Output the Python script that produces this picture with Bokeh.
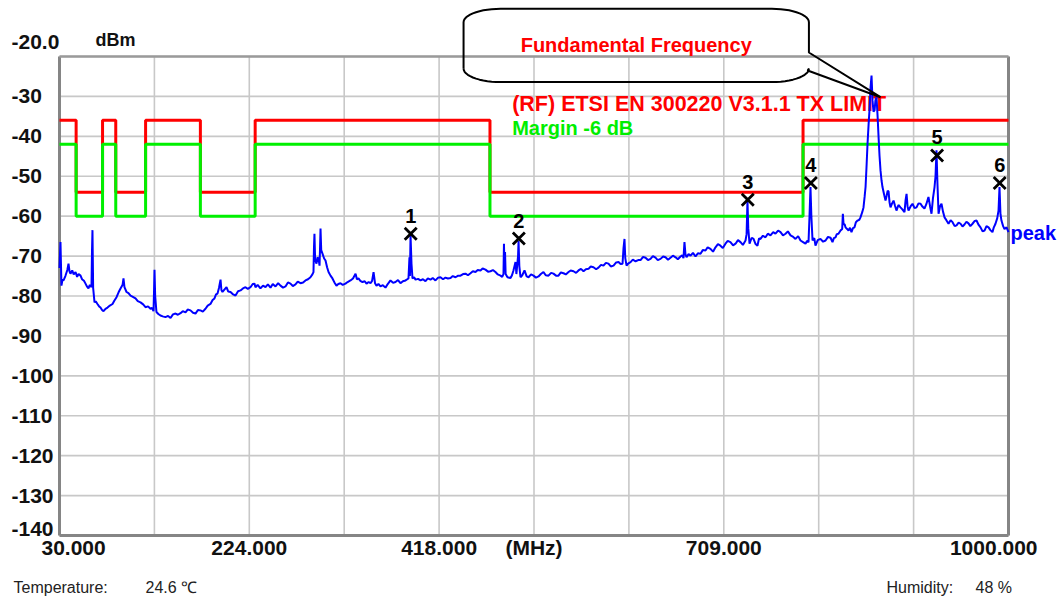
import numpy as np
from bokeh.plotting import figure
from bokeh.models import Range1d
from bokeh.core.properties import value
from bokeh.embed import file_html
from bokeh.resources import INLINE

# ---------------- data ----------------
FREQ_MHZ = [
    30.0, 31.0, 32.0, 33.0, 34.1, 36.0, 38.0, 39.2, 40.2, 41.2,
    43.0, 44.5, 46.4, 48.0, 49.5, 51.5, 53.0, 55.0, 56.6, 58.0,
    59.6, 61.0, 62.7, 63.2, 63.7, 64.4, 65.8, 67.0, 68.8, 70.5,
    71.9, 73.5, 75.0, 77.0, 79.1, 81.5, 84.2, 86.0, 88.3, 90.5,
    92.4, 94.5, 95.4, 96.4, 98.5, 100.5, 102.6, 105.0, 107.7, 110.0,
    112.8, 115.5, 117.9, 120.5, 123.0, 124.5, 126.1, 126.7, 127.1, 127.8,
    129.1, 131.0, 133.2, 135.5, 138.3, 141.0, 143.5, 146.0, 148.6, 151.0,
    153.7, 156.0, 158.8, 161.0, 163.9, 166.5, 169.0, 171.5, 174.1, 176.5,
    179.2, 181.5, 184.3, 186.5, 188.4, 190.0, 191.5, 193.0, 194.6, 195.5,
    196.6, 198.5, 200.7, 202.5, 204.8, 207.0, 209.9, 212.5, 215.0, 217.5,
    220.1, 222.5, 225.2, 227.5, 229.3, 230.3, 232.5, 235.4, 238.0, 240.6,
    243.0, 245.7, 248.0, 250.8, 253.5, 255.9, 258.5, 261.0, 263.5, 266.1,
    268.5, 271.2, 273.5, 276.3, 279.0, 281.4, 284.0, 286.5, 288.5, 289.6,
    290.1, 290.6, 291.3, 292.7, 293.7, 295.0, 295.8, 296.3, 296.8, 297.5,
    298.8, 300.5, 301.9, 303.5, 305.0, 307.0, 309.0, 311.0, 313.1, 315.0,
    317.2, 319.5, 322.3, 324.5, 327.4, 330.0, 332.6, 334.0, 335.6, 337.5,
    339.7, 342.0, 343.8, 346.0, 347.9, 349.5, 351.0, 352.5, 354.0, 356.0,
    358.1, 360.5, 363.2, 365.5, 368.3, 371.0, 373.4, 376.0, 378.5, 381.0,
    383.7, 385.5, 386.7, 387.7, 388.2, 388.8, 389.8, 390.8, 392.5, 393.9,
    396.5, 399.0, 401.5, 404.1, 406.5, 409.2, 411.5, 414.3, 417.0, 419.4,
    422.0, 424.5, 427.0, 429.7, 432.0, 434.8, 437.5, 439.9, 442.5, 445.0,
    447.5, 450.1, 452.5, 455.2, 457.5, 460.3, 462.5, 465.4, 468.0, 470.5,
    473.0, 475.6, 478.0, 480.8, 482.5, 483.8, 484.3, 484.8, 485.4, 486.0,
    487.9, 491.0, 492.5, 494.0, 496.1, 497.0, 498.7, 499.2, 500.0, 501.2,
    503.0, 505.3, 507.5, 509.4, 512.0, 514.5, 517.0, 519.6, 522.0, 524.7,
    527.0, 529.8, 532.5, 534.9, 537.5, 540.0, 542.5, 545.2, 547.5, 550.3,
    552.5, 555.4, 558.0, 560.5, 563.0, 565.6, 568.0, 570.7, 573.0, 575.8,
    578.5, 580.9, 583.5, 586.0, 588.5, 591.1, 593.5, 596.3, 599.0, 601.4,
    603.5, 605.5, 606.5, 607.5, 608.3, 609.6, 611.5, 613.7, 616.0, 618.8,
    621.5, 623.9, 626.5, 629.0, 631.5, 634.1, 636.5, 639.2, 641.5, 644.3,
    647.0, 649.4, 652.0, 654.5, 657.0, 659.7, 662.0, 664.8, 666.5, 667.8,
    668.8, 669.8, 670.9, 673.0, 675.0, 677.5, 680.1, 682.5, 685.2, 687.5,
    690.3, 692.5, 695.4, 698.0, 700.5, 703.0, 705.6, 708.0, 710.7, 713.0,
    715.8, 718.5, 721.0, 723.5, 726.1, 728.5, 731.2, 732.3, 733.2, 734.0,
    735.3, 737.5, 739.4, 741.5, 743.4, 745.0, 746.5, 749.0, 751.6, 754.0,
    756.7, 759.5, 761.8, 764.5, 767.0, 769.5, 772.1, 774.5, 777.2, 780.0,
    782.3, 785.0, 787.4, 790.0, 792.5, 794.0, 795.6, 796.6, 797.6, 798.5,
    799.7, 801.5, 802.7, 805.0, 807.8, 810.5, 813.0, 815.5, 818.1, 820.1,
    821.5, 823.2, 824.5, 826.2, 828.3, 830.0, 830.7, 831.4, 832.5, 833.4,
    835.0, 836.5, 838.0, 839.5, 841.0, 842.6, 844.0, 845.7, 847.5, 848.7,
    850.5, 851.8, 853.0, 853.9, 855.0, 855.9, 857.0, 857.9, 859.0, 860.0,
    861.0, 862.0, 863.1, 864.0, 865.1, 866.2, 867.2, 868.2, 869.2, 870.2,
    871.2, 872.8, 874.3, 875.5, 876.5, 877.4, 878.4, 879.4, 881.0, 882.5,
    884.0, 885.5, 887.5, 889.6, 891.5, 893.7, 894.8, 895.8, 896.8, 897.8,
    900.0, 901.9, 904.0, 906.0, 908.0, 910.1, 912.0, 914.1, 916.0, 918.2,
    919.8, 921.3, 922.8, 924.4, 925.4, 926.4, 927.4, 928.5, 930.0, 931.5,
    933.0, 934.6, 936.5, 938.7, 940.8, 942.8, 945.0, 946.9, 949.0, 951.0,
    953.0, 955.0, 957.0, 959.1, 961.0, 963.2, 965.5, 967.3, 969.5, 971.4,
    973.5, 975.5, 977.5, 979.6, 981.5, 983.6, 985.0, 986.7, 988.5, 989.8,
    990.8, 991.8, 992.8, 994.5, 995.9, 998.0, 1000.0,
]

LEVEL_DBM = [
    -73.0, -66.5, -77.4, -76.0, -76.1, -75.0, -73.5, -71.9, -73.8, -74.4,
    -73.6, -74.6, -74.0, -75.2, -74.5, -74.9, -75.8, -76.2, -76.9, -77.6,
    -78.1, -77.2, -77.8, -69.0, -63.5, -78.0, -81.6, -81.3, -82.0, -82.6,
    -82.9, -83.5, -83.8, -83.2, -82.9, -82.4, -82.0, -81.2, -80.3, -79.0,
    -78.1, -77.2, -75.6, -77.8, -79.0, -79.3, -79.9, -80.2, -80.6, -81.3,
    -81.6, -82.1, -82.8, -82.6, -83.2, -83.0, -83.8, -78.0, -73.4, -80.0,
    -84.0, -84.5, -84.9, -85.1, -85.3, -85.0, -85.5, -84.6, -84.4, -84.7,
    -84.3, -83.8, -84.1, -83.4, -83.6, -84.2, -84.4, -83.5, -83.6, -83.9,
    -83.2, -82.4, -82.0, -81.0, -80.6, -79.6, -79.4, -78.0, -75.9, -78.5,
    -79.0, -78.4, -77.8, -78.9, -79.0, -79.5, -79.9, -78.8, -78.6, -78.1,
    -77.8, -78.2, -77.8, -77.0, -76.9, -77.8, -77.2, -78.1, -77.4, -77.8,
    -77.1, -77.9, -77.0, -77.6, -76.8, -77.4, -77.9, -77.6, -76.6, -76.9,
    -77.5, -77.1, -76.4, -76.8, -76.6, -76.1, -75.8, -75.3, -74.6, -74.0,
    -68.0, -64.4, -71.0, -71.9, -70.3, -71.0, -72.4, -68.0, -63.1, -68.5,
    -69.4, -70.6, -71.1, -72.8, -74.0, -74.9, -75.6, -76.6, -77.4, -77.0,
    -76.8, -77.2, -76.9, -76.5, -76.1, -75.6, -74.4, -75.8, -75.6, -76.2,
    -76.5, -76.3, -76.9, -76.5, -76.8, -76.2, -74.0, -76.8, -77.4, -77.0,
    -77.6, -77.3, -77.9, -77.0, -76.1, -76.7, -76.5, -76.0, -76.8, -76.3,
    -76.1, -75.8, -75.6, -70.3, -75.0, -64.8, -72.0, -75.6, -75.3, -75.9,
    -75.7, -76.1, -75.8, -76.3, -75.6, -75.9, -75.5, -76.1, -75.4, -75.3,
    -75.8, -75.4, -75.6, -75.5, -75.0, -75.3, -74.9, -74.9, -74.5, -74.4,
    -74.8, -74.3, -73.8, -74.0, -73.5, -73.6, -73.1, -73.4, -73.9, -73.8,
    -73.5, -74.0, -74.6, -74.9, -75.2, -74.5, -66.9, -73.0, -69.0, -74.5,
    -75.3, -75.5, -74.8, -73.6, -71.5, -74.5, -70.0, -66.2, -72.5, -75.3,
    -74.8, -73.6, -75.1, -75.3, -74.6, -74.9, -75.4, -75.1, -74.5, -74.0,
    -74.8, -74.9, -74.2, -74.4, -74.9, -74.9, -74.1, -74.3, -74.6, -74.0,
    -73.6, -73.8, -74.2, -73.6, -73.2, -73.8, -73.3, -73.2, -72.6, -72.8,
    -73.3, -72.9, -72.2, -72.4, -71.7, -71.9, -72.6, -72.4, -71.6, -71.5,
    -72.0, -71.9, -68.0, -65.7, -70.5, -72.4, -71.8, -71.5, -70.9, -71.3,
    -71.0, -71.0, -70.2, -70.4, -71.0, -70.7, -70.0, -70.4, -71.0, -70.7,
    -70.1, -70.3, -70.9, -70.4, -69.9, -70.3, -70.8, -70.1, -69.8, -70.5,
    -66.5, -69.5, -70.3, -69.5, -69.9, -69.2, -70.1, -69.3, -69.4, -68.5,
    -68.6, -67.8, -68.2, -68.9, -67.8, -67.0, -67.4, -68.0, -66.9, -66.2,
    -66.5, -67.3, -66.9, -66.0, -66.5, -67.2, -66.1, -64.5, -56.1, -63.0,
    -66.9, -65.4, -65.7, -67.0, -67.4, -65.6, -65.7, -64.9, -65.3, -64.4,
    -64.8, -64.0, -64.4, -63.6, -64.0, -64.8, -64.4, -63.8, -64.8, -65.2,
    -65.7, -65.0, -66.1, -66.5, -66.9, -66.2, -66.5, -60.0, -52.7, -60.0,
    -66.1, -65.5, -67.4, -66.0, -65.7, -66.4, -66.1, -65.2, -65.4, -66.5,
    -65.5, -65.3, -64.5, -64.4, -63.6, -63.2, -59.4, -62.0, -62.0, -62.8,
    -63.2, -63.6, -62.9, -64.0, -63.0, -62.8, -61.5, -61.1, -60.9, -60.3,
    -59.0, -57.8, -55.0, -52.7, -47.0, -41.9, -37.0, -33.5, -27.7, -24.8,
    -31.0, -33.8, -33.5, -31.0, -30.2, -35.0, -40.2, -45.0, -48.6, -51.0,
    -52.7, -54.5, -56.1, -54.8, -53.6, -53.8, -56.5, -57.8, -56.8, -56.1,
    -57.4, -58.6, -57.2, -57.8, -58.3, -59.0, -56.0, -54.4, -57.5, -58.6,
    -57.5, -56.9, -58.0, -57.8, -56.8, -56.9, -57.6, -58.1, -57.0, -55.2,
    -57.5, -59.4, -55.5, -52.7, -50.0, -43.5, -52.0, -59.4, -57.5, -56.9,
    -58.8, -60.3, -61.0, -61.9, -61.0, -61.5, -62.5, -62.3, -61.6, -61.9,
    -62.6, -62.1, -61.4, -61.8, -62.5, -61.9, -61.2, -61.1, -62.2, -62.8,
    -63.8, -63.6, -62.5, -62.8, -63.5, -64.0, -62.8, -61.9, -60.5, -58.6,
    -52.7, -59.5, -61.1, -62.5, -63.2, -62.8, -64.0,
]
assert len(FREQ_MHZ) == len(LEVEL_DBM)

LIMIT_EDGES_MHZ = [30, 47, 74, 87.5, 118, 174, 230, 470, 790, 1000]
LIMIT_DBM = [-36, -54, -36, -54, -36, -54, -36, -54, -36]
MARGIN_DB = -6

MARKER_ID = ["1", "2", "3", "4", "5", "6"]
MARKER_MHZ = [389.0, 499.5, 733.5, 798.0, 927.0, 991.0]
MARKER_DBM = [-64.4, -65.6, -55.9, -51.7, -44.8, -51.7]

GRID_X = [30, 127, 224, 321, 418, 515, 612, 709, 806, 903, 1000]
GRID_Y = [-20, -30, -40, -50, -60, -70, -80, -90, -100, -110, -120, -130, -140]
Y_LABELS = ["-20.0", "-30", "-40", "-50", "-60", "-70", "-80", "-90", "-100",
            "-110", "-120", "-130", "-140"]
X_LABEL_TICKS = [30, 224, 418, 515, 709, 1000]
X_LABELS = ["30.000", "224.000", "418.000", "(MHz)", "709.000", "1000.000"]

X_MIN, X_MAX = 30, 1000
Y_MIN, Y_MAX = -140, -20

LIMIT_NAME = "(RF) ETSI EN 300220 V3.1.1 TX LIMIT"
MARGIN_NAME = "Margin -6 dB"
CALLOUT_TEXT = "Fundamental Frequency"
UNIT_TEXT = "dBm"
TEMP_LABEL, TEMP_VALUE = "Temperature:", "24.6 \u2103"
HUM_LABEL, HUM_VALUE = "Humidity:", "48 %"

# ---------------- layout (pixel mapping) ----------------
W, H = 1057, 596
PX_PER_MHZ = 949 / 970
PX_PER_DB = 479 / 120
x_start = X_MIN - 59 / PX_PER_MHZ
x_end = x_start + W / PX_PER_MHZ
y_top = Y_MAX + 56 / PX_PER_DB
y_bottom = y_top - H / PX_PER_DB

FONT = value("Liberation Sans")

p = figure(width=W, height=H, x_range=Range1d(x_start, x_end),
           y_range=Range1d(y_bottom, y_top), output_backend="svg",
           toolbar_location=None, x_axis_location=None, y_axis_location=None,
           min_border=0, outline_line_color=None,
           background_fill_color="white", border_fill_color="white")
p.grid.visible = False

# grid
p.segment(x0=GRID_X, y0=[Y_MIN] * len(GRID_X), x1=GRID_X, y1=[Y_MAX] * len(GRID_X),
          line_color="#c8c8c8", line_width=1.6)
p.segment(x0=[X_MIN] * len(GRID_Y), y0=GRID_Y, x1=[X_MAX] * len(GRID_Y), y1=GRID_Y,
          line_color="#c8c8c8", line_width=1.6)

# frame border
p.segment(x0=[X_MIN, X_MIN, X_MAX], y0=[Y_MAX, Y_MIN, Y_MIN],
          x1=[X_MIN, X_MAX, X_MAX], y1=[Y_MIN, Y_MIN, Y_MAX],
          line_color="#858585", line_width=3)
p.segment(x0=[X_MIN], y0=[Y_MAX], x1=[X_MAX], y1=[Y_MAX],
          line_color="#9a9a9a", line_width=2.5)

# y tick labels
y_off = [-15 if v == Y_MAX else (-7 if v == Y_MIN else 0) for v in GRID_Y]
p.text(x=[X_MIN] * len(GRID_Y), y=GRID_Y, text=Y_LABELS, x_offset=-48, y_offset=y_off,
       text_font=FONT, text_font_style="bold", text_font_size="21px",
       text_color="#111111", text_align="left", text_baseline="middle")
p.text(x=[X_MIN], y=[Y_MAX], text=[UNIT_TEXT], x_offset=36, y_offset=-17,
       text_font=FONT, text_font_style="bold", text_font_size="18px",
       text_color="#111111", text_align="left", text_baseline="middle")

# x tick labels
mid_ticks = X_LABEL_TICKS[1:-1]
p.text(x=mid_ticks, y=[Y_MIN] * len(mid_ticks), text=X_LABELS[1:-1], y_offset=12,
       text_font=FONT, text_font_style="bold", text_font_size="21px",
       text_color="#111111", text_align="center", text_baseline="middle")
p.text(x=[X_LABEL_TICKS[0]], y=[Y_MIN], text=[X_LABELS[0]], x_offset=-18, y_offset=12,
       text_font=FONT, text_font_style="bold", text_font_size="21px",
       text_color="#111111", text_align="left", text_baseline="middle")
p.text(x=[X_LABEL_TICKS[-1]], y=[Y_MIN], text=[X_LABELS[-1]], x_offset=29, y_offset=12,
       text_font=FONT, text_font_style="bold", text_font_size="21px",
       text_color="#111111", text_align="right", text_baseline="middle")

# footer
p.text(x=[X_MIN, X_MIN], y=[Y_MIN, Y_MIN], text=[TEMP_LABEL, TEMP_VALUE],
       x_offset=[-46, 86], y_offset=52, text_font=FONT, text_font_size="16px",
       text_color="#222222", text_align="left", text_baseline="middle")
p.text(x=[X_MAX, X_MAX], y=[Y_MIN, Y_MIN], text=[HUM_LABEL, HUM_VALUE],
       x_offset=[-122, -33], y_offset=52, text_font=FONT, text_font_size="16px",
       text_color="#222222", text_align="left", text_baseline="middle")

# legend texts
LEGEND_X = 492.7
p.text(x=[LEGEND_X], y=[-32.0], text=[LIMIT_NAME], text_font=FONT,
       text_font_style="bold", text_font_size="21.5px", text_color="#ff0000",
       text_align="left", text_baseline="middle")
p.text(x=[LEGEND_X], y=[-37.8], text=[MARGIN_NAME], text_font=FONT,
       text_font_style="bold", text_font_size="20px", text_color="#00ee00",
       text_align="left", text_baseline="middle")

# limit lines
p.step(x=LIMIT_EDGES_MHZ, y=LIMIT_DBM + [LIMIT_DBM[-1]], mode="after",
       line_color="#ff0000", line_width=3)
margin = [v + MARGIN_DB for v in LIMIT_DBM]
p.step(x=LIMIT_EDGES_MHZ, y=margin + [margin[-1]], mode="after",
       line_color="#00f000", line_width=3)

# trace
p.line(FREQ_MHZ, LEVEL_DBM, line_color="#0000ff", line_width=2)
p.text(x=[FREQ_MHZ[-1]], y=[LEVEL_DBM[-1]], text=["peak"], x_offset=2, y_offset=1,
       text_font=FONT, text_font_style="bold", text_font_size="20px",
       text_color="#0000ff", text_align="left", text_baseline="middle")

# markers
p.scatter(MARKER_MHZ, MARKER_DBM, marker="x", size=17, line_width=2.8, line_color="#000000")
p.text(x=MARKER_MHZ, y=MARKER_DBM, text=MARKER_ID, y_offset=-18,
       text_font=FONT, text_font_style="bold", text_font_size="20px",
       text_color="#000000", text_align="center", text_baseline="middle")

# callout balloon
BOX_L, BOX_R, BOX_T, BOX_B = 443.0, 796.0, -8.05, -26.4
TAIL_Y1, TAIL_Y2 = -19.0, -23.5
TIP_X, TIP_Y = 869.2, -30.2
RX = 37 / PX_PER_MHZ
RY = 13.5 / PX_PER_DB


def arc(cx, cy, a0, a1, n=14):
    t = np.radians(np.linspace(a0, a1, n))
    return list(cx + RX * np.cos(t)), list(cy + RY * np.sin(t))


bx, by = [BOX_L], [BOX_B + RY]
for cx, cy, a0, a1 in [(BOX_L + RX, BOX_T - RY, 180, 90),
                       (BOX_R - RX, BOX_T - RY, 90, 0)]:
    ax, ay = arc(cx, cy, a0, a1)
    bx += ax
    by += ay
bx += [BOX_R, TIP_X, BOX_R - 1.3]
by += [TAIL_Y1, TIP_Y, TAIL_Y2]
for cx, cy, a0, a1 in [(BOX_R - RX, BOX_B + RY, 0, -90),
                       (BOX_L + RX, BOX_B + RY, -90, -180)]:
    ax, ay = arc(cx, cy, a0, a1)
    bx += ax
    by += ay
p.line(bx, by, line_color="#000000", line_width=2)
p.text(x=[619.5], y=[-17.0], text=[CALLOUT_TEXT], text_font=FONT,
       text_font_style="bold", text_font_size="20px", text_color="#ff0000",
       text_align="center", text_baseline="middle")

open("out.html", "w").write(file_html(p, INLINE))
